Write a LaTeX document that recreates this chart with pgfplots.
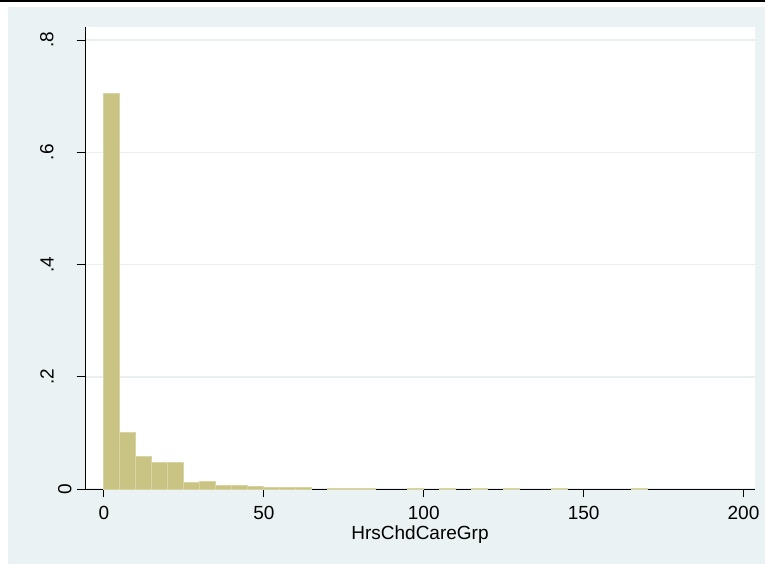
\documentclass[border=0pt]{standalone}
\usepackage{fontspec}
\setmainfont{Liberation Sans}
\usepackage{pgfplots}
\pgfplotsset{compat=1.18}
\definecolor{bgc}{RGB}{234,242,243}
\definecolor{gridc}{RGB}{232,240,242}
\definecolor{barc}{RGB}{201,195,132}
\definecolor{barl}{RGB}{216,211,163}
\begin{document}
\begin{tikzpicture}[font=\fontsize{9.5}{11}\selectfont]
\useasboundingbox (0,0) rectangle (382.5pt,282pt);
\fill[white] (0,0) rectangle (382.5pt,282pt);
\fill[black] (0,281pt) rectangle (382.5pt,282pt);
\fill[bgc] (4pt,0) rectangle (382.5pt,278.5pt);
\begin{axis}[
  at={(42.5pt,37.5pt)}, anchor=south west,
  scale only axis, width=335pt, height=231pt,
  xmin=-5.94, xmax=203.6, ymin=0, ymax=0.8232,
  axis background/.style={fill=white},
  axis x line*=bottom, axis y line*=left,
  axis line style={-, black, line width=0.5pt},
  tick align=outside, major tick length=4pt,
  tick style={black, line width=0.5pt},
  xtick={0,50,100,150,200}, xticklabels={0,50,100,150,200},
  ytick={0,0.2,0.4,0.6,0.8}, yticklabels={},
  ymajorgrids, major grid style={gridc, line width=0.75pt},
  xticklabel style={anchor=north, inner sep=0pt, yshift=-4.25pt},
  xlabel={HrsChdCareGrp},
  xlabel style={at={(axis description cs:0.5,0)}, anchor=north, inner sep=0pt, yshift=-18pt},
]
\addplot[ybar, bar width=5, bar shift=0pt, fill=barc, draw=barl, line width=0.5pt] coordinates {
(2.5,0.704) (7.5,0.101) (12.5,0.0576) (17.5,0.0475) (22.5,0.0469)
(27.5,0.0115) (32.5,0.0140) (37.5,0.0071) (42.5,0.0058) (47.5,0.0048)
(52.5,0.0022) (57.5,0.0018) (62.5,0.0018) (72.5,0.0015) (77.5,0.0015)
(82.5,0.0015) (97.5,0.0015) (107.5,0.0012) (117.5,0.0012) (127.5,0.0012)
(142.5,0.0012) (167.5,0.0012)
};
\coordinate (y0) at (axis cs:-5.94,0);
\coordinate (y2) at (axis cs:-5.94,0.2);
\coordinate (y4) at (axis cs:-5.94,0.4);
\coordinate (y6) at (axis cs:-5.94,0.6);
\coordinate (y8) at (axis cs:-5.94,0.8);
\end{axis}
\node[rotate=90, anchor=south, inner sep=0pt] at ([xshift=-6.5pt]y0) {0};
\node[rotate=90, anchor=south, inner sep=0pt] at ([xshift=-15.5pt]y2) {.2};
\node[rotate=90, anchor=south, inner sep=0pt] at ([xshift=-15.5pt]y4) {.4};
\node[rotate=90, anchor=south, inner sep=0pt] at ([xshift=-15.5pt]y6) {.6};
\node[rotate=90, anchor=south, inner sep=0pt] at ([xshift=-15.5pt]y8) {.8};
\end{tikzpicture}
\end{document}
